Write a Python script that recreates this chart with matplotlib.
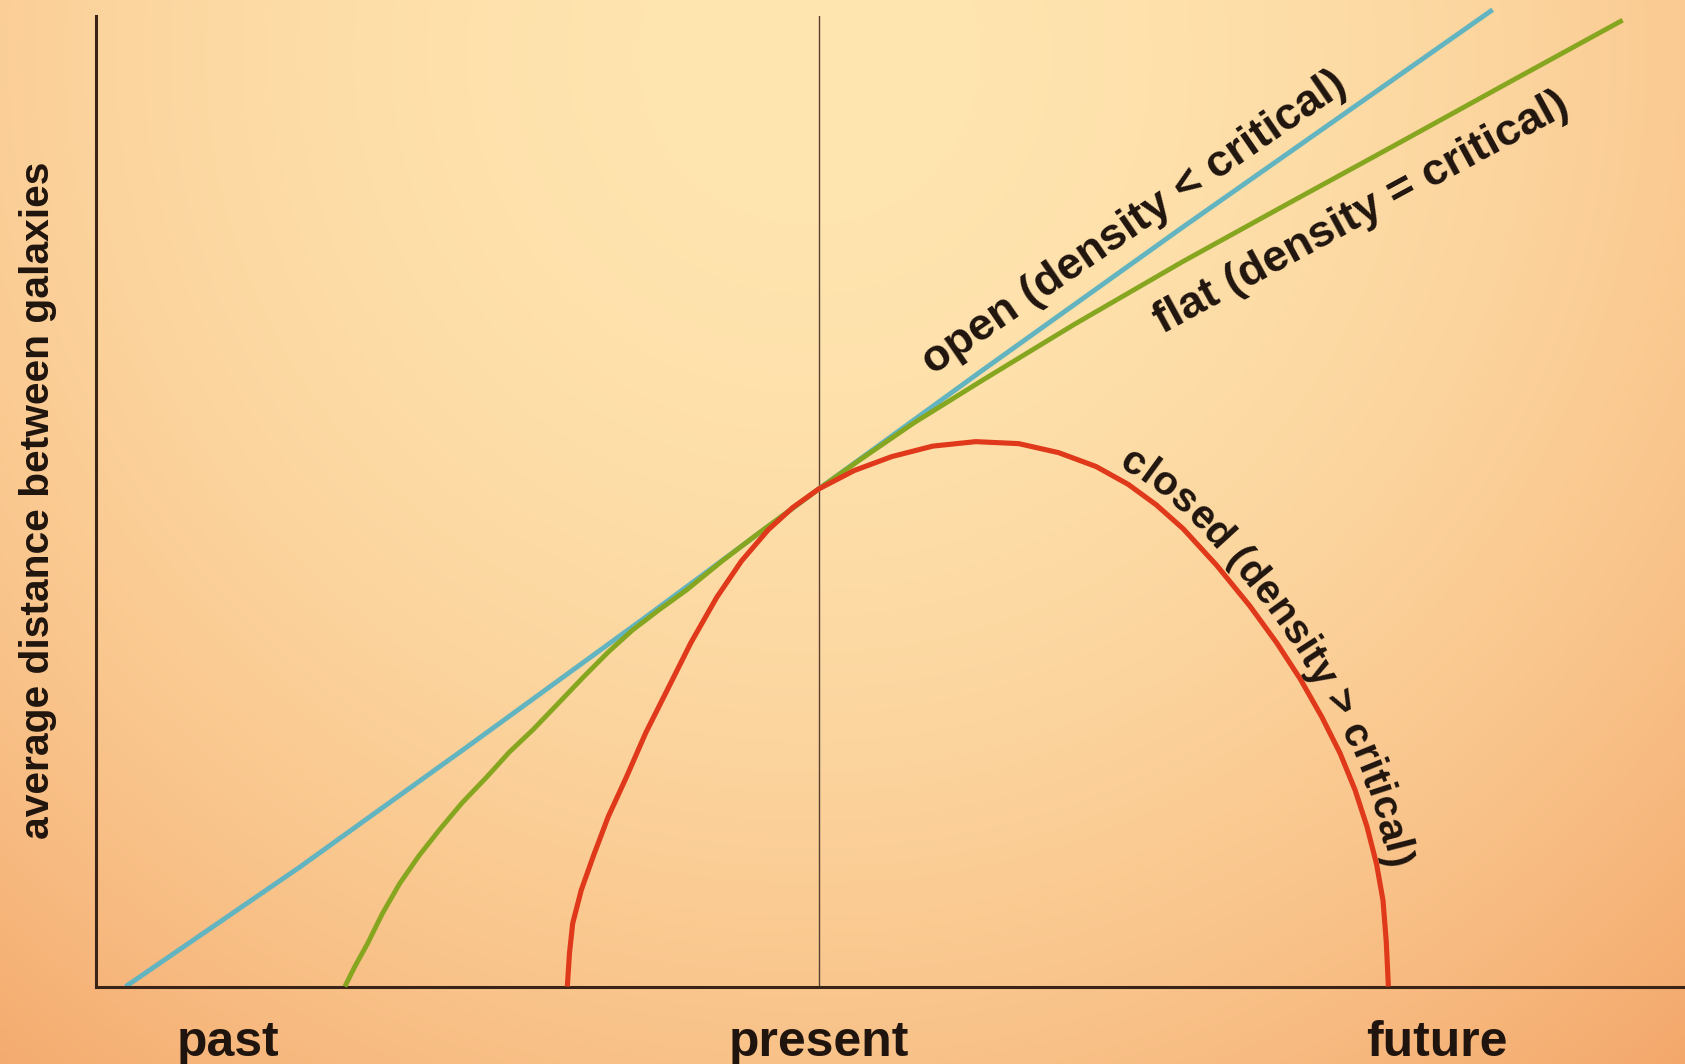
import numpy as np
import matplotlib
matplotlib.use("Agg")
import matplotlib.pyplot as plt
from matplotlib.font_manager import FontProperties, findfont, get_font
from matplotlib.transforms import IdentityTransform

# ---------------- data ----------------
# time axis: present = 0 ; distance: present = 1
open_t = [-6.45, -4.83, -3.27, -1.62, 0.0, 1.52, 3.38, 6.27]
open_d = [0.0, 0.240, 0.482, 0.741, 1.0, 1.238, 1.525, 1.963]

flat_t = [-4.41, -4.32, -4.20, -4.06, -3.90, -3.72, -3.53, -3.32, -3.09, -2.88,
          -2.66, -2.42, -2.19, -1.96, -1.73, -1.48, -1.23, -0.90, -0.56, -0.27,
          0.0, 0.38, 0.88, 1.52, 2.38, 3.38, 4.38, 5.38, 6.38, 7.48]
flat_d = [0.0, 0.039, 0.086, 0.147, 0.207, 0.263, 0.315, 0.369, 0.421, 0.471,
          0.516, 0.570, 0.622, 0.672, 0.717, 0.758, 0.797, 0.855, 0.911, 0.957,
          1.0, 1.058, 1.132, 1.218, 1.331, 1.456, 1.575, 1.693, 1.812, 1.942]

closed_t = [-2.34, -2.32, -2.29, -2.21, -2.10, -1.96, -1.79, -1.61, -1.41, -1.19,
            -0.95, -0.72, -0.47, -0.24, 0.0, 0.33, 0.68, 1.06, 1.46, 1.86,
            2.23, 2.58, 2.88, 3.14, 3.39, 3.70, 4.01, 4.26, 4.48, 4.68,
            4.85, 4.99, 5.10, 5.19, 5.25, 5.28, 5.30]
closed_d = [0.0, 0.067, 0.127, 0.194, 0.261, 0.341, 0.421, 0.510, 0.596, 0.691,
            0.782, 0.855, 0.918, 0.963, 1.0, 1.037, 1.065, 1.086, 1.095, 1.091,
            1.073, 1.045, 1.009, 0.968, 0.920, 0.847, 0.765, 0.691, 0.618, 0.542,
            0.469, 0.395, 0.322, 0.246, 0.173, 0.091, 0.0]

present_t = 0.0
time_ticks = [-5.5, 0.0, 5.75]
time_labels = ["past", "present", "future"]
y_label = "average distance between galaxies"
open_label = "open (density < critical)"
flat_label = "flat (density = critical)"
closed_label = "closed (density > critical)"

# ---------------- styling ----------------
W, H, DPI = 1685, 1064, 100
FAMILY = "Liberation Sans"
plt.rcParams["font.family"] = [FAMILY, "DejaVu Sans"]
TEXT_C = "#20150e"
AXIS_C = "#3a2418"
BLUE = "#62B4C0"
GREEN = "#86A61F"
RED = "#E0381A"


def advances(s, size, weight="bold"):
    prop = FontProperties(family=FAMILY, weight=weight, size=size)
    font = get_font(findfont(prop))
    font.set_size(size, DPI)
    out = []
    for ch in s:
        g = font.load_char(ord(ch))
        out.append(g.linearHoriAdvance / 65536.0)
    return out


def fit_size(s, target_px, weight="bold"):
    return 10.0 * target_px / sum(advances(s, 10.0, weight))


fig = plt.figure(figsize=(W / DPI, H / DPI), dpi=DPI)

# warm photographic background
bg = fig.add_axes([0, 0, 1, 1])
bg.set_axis_off()
yy, xx = np.mgrid[0:1:240j, 0:1:380j]
u = np.sqrt(((xx - 0.48) / 0.70) ** 2 + ((yy - 0.95) / 1.1) ** 2)
frac = np.clip(0.72 * u ** 2, 0, 1)[..., None]
light = np.array([255, 229, 176]) / 255.0
dark = np.array([243, 163, 102]) / 255.0
img = light + frac * (dark - light)
bg.imshow(img, extent=[0, 1, 0, 1], origin="lower", aspect="auto",
          interpolation="bilinear")
bg.set_xlim(0, 1)
bg.set_ylim(0, 1)

ax = fig.add_axes([0.0567, 0.0728, 0.9433, 0.912])
ax.set_facecolor("none")
ax.set_xlim(-6.73, 8.06)
ax.set_ylim(0, 1.95)
for side in ("top", "right"):
    ax.spines[side].set_visible(False)
for side in ("left", "bottom"):
    ax.spines[side].set_color(AXIS_C)
    ax.spines[side].set_linewidth(2.2)
ax.set_yticks([])

tick_fs = fit_size("present", 180)
ax.set_xticks(time_ticks)
ax.set_xticklabels(time_labels, fontsize=tick_fs, fontweight="bold", color=TEXT_C)
ax.tick_params(axis="x", length=0, pad=24)

ax.axvline(present_t, color="#5a4030", lw=1.0, zorder=1)

ax.plot(open_t, open_d, color=BLUE, lw=3.5, zorder=2, clip_on=False,
        solid_capstyle="butt")
ax.plot(flat_t, flat_d, color=GREEN, lw=3.5, zorder=3, clip_on=False,
        solid_capstyle="butt", solid_joinstyle="round")
ax.plot(closed_t, closed_d, color=RED, lw=3.7, zorder=4, clip_on=False,
        solid_capstyle="butt", solid_joinstyle="round")

# y label
yl_fs = fit_size(y_label, 677)
fig.text(0.0223, 0.530, y_label, rotation=90, ha="center", va="center",
         fontsize=yl_fs, fontweight="bold", color=TEXT_C)

# straight curve labels
open_fs = fit_size(open_label, 505)
ax.text(1.06, 1.228, open_label, rotation=34.5, rotation_mode="anchor",
        ha="left", va="baseline", fontsize=open_fs, fontweight="bold",
        color=TEXT_C, zorder=5)
flat_fs = fit_size(flat_label, 465)
ax.text(3.20, 1.312, flat_label, rotation=28.5, rotation_mode="anchor",
        ha="left", va="baseline", fontsize=flat_fs, fontweight="bold",
        color=TEXT_C, zorder=5)

# curved label along the closed curve
pts = ax.transData.transform(np.column_stack([closed_t, closed_d]))
seg = np.hypot(np.diff(pts[:, 0]), np.diff(pts[:, 1]))
cum = np.concatenate([[0.0], np.cumsum(seg)])


def point_at(s):
    return np.array([np.interp(s, cum, pts[:, 0]), np.interp(s, cum, pts[:, 1])])


ipk = int(np.argmax(closed_d))
start_t = 2.73
s0 = np.interp(start_t, closed_t[ipk:], cum[ipk:])
closed_fs = fit_size(closed_label, 488)
adv = advances(closed_label, closed_fs)
offset = 10.0
x = 0.0
for ch, a in zip(closed_label, adv):
    sc = s0 + x + a / 2.0
    p1 = point_at(sc - max(a, 12) / 2.0)
    p2 = point_at(sc + max(a, 12) / 2.0)
    d = p2 - p1
    d = d / np.hypot(*d)
    nrm = np.array([-d[1], d[0]])
    pos = point_at(sc) + nrm * offset
    ang = np.degrees(np.arctan2(d[1], d[0]))
    if ch != " ":
        fig.text(pos[0], pos[1], ch, transform=IdentityTransform(),
                 rotation=ang, rotation_mode="anchor", ha="center",
                 va="baseline", fontsize=closed_fs, fontweight="bold",
                 color=TEXT_C, zorder=5)
    x += a

fig.savefig("out.png", dpi=DPI)
